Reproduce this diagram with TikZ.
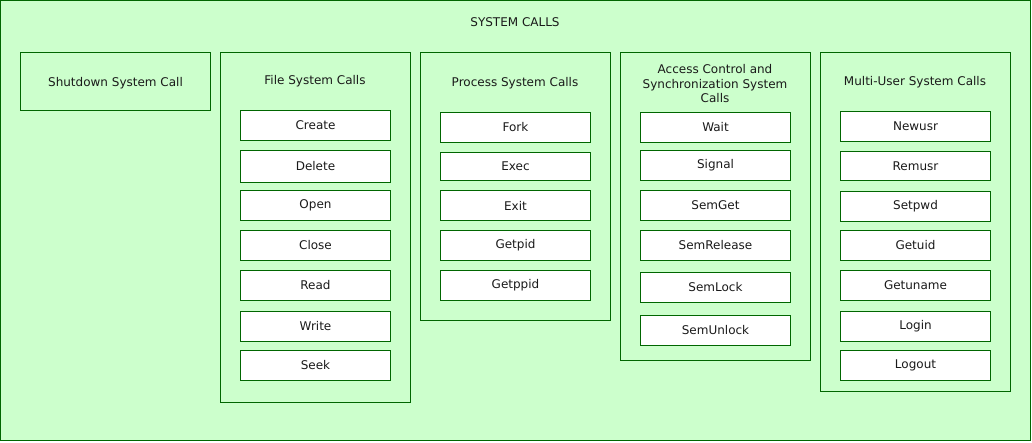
\documentclass[tikz,border=0pt]{standalone}
\usepackage{fontspec}
\setmainfont{DejaVu Sans}
\definecolor{gfill}{HTML}{CCFFCC}
\definecolor{gline}{HTML}{006600}
\definecolor{txt}{HTML}{1A1A1A}
\begin{document}
\begin{tikzpicture}[x=1pt,y=-1pt,
  panel/.style={draw=gline, fill=gfill, line width=1pt, inner sep=0pt, outer sep=0pt, anchor=north west},
  itembox/.style={draw=gline, fill=white, line width=1pt, minimum width=150pt, minimum height=30pt, inner sep=0pt, outer sep=0pt, anchor=north west, text=txt, font=\fontsize{12}{14.5}\selectfont},
  lbl/.style={font=\fontsize{12}{14.5}\selectfont, align=center, inner sep=0pt, text=txt}]
\useasboundingbox (0,0) rectangle (1032,442);
% outer container
\node[panel, minimum width=1030pt, minimum height=440pt] (outer) at (0.5,0.5) {};
\node[lbl] (title) at (515,22) {SYSTEM CALLS};
% shutdown
\node[panel, minimum width=190pt, minimum height=58pt] (shut) at (20.5,52.5) {};
\node[lbl] (shutT) at (115.5,83) {Shutdown System Call};
% panels
\node[panel, minimum width=190pt, minimum height=350pt] (file) at (220.5,52.5) {};
\node[panel, minimum width=190pt, minimum height=268pt] (proc) at (420.5,52.5) {};
\node[panel, minimum width=190pt, minimum height=308pt] (acc) at (620.5,52.5) {};
\node[panel, minimum width=190pt, minimum height=339pt] (multi) at (820.5,52.5) {};
% panel titles
\node[lbl] (fileT) at (315,81.5) {File System Calls};
\node[lbl] (procT) at (515,83.5) {Process System Calls};
\node[lbl] (accT) at (715,84) {Access Control and\\Synchronization System\\Calls};
\node[lbl] (multiT) at (915,82.5) {Multi-User System Calls};
% file system calls
\node[itembox] (create) at (240.5,110.5) {Create};
\node[itembox, minimum height=32pt] (delete) at (240.5,150.5) {Delete};
\node[itembox] (open) at (240.5,190.5) {Open};
\node[itembox] (close) at (240.5,230.5) {Close};
\node[itembox] (read) at (240.5,270.5) {Read};
\node[itembox] (write) at (240.5,311.5) {Write};
\node[itembox] (seek) at (240.5,350.5) {Seek};
% process system calls
\node[itembox] (fork) at (440.5,112.5) {Fork};
\node[itembox, minimum height=28pt] (exec) at (440.5,152.5) {Exec};
\node[itembox] (exit) at (440.5,190.5) {Exit};
\node[itembox] (getpid) at (440.5,230.5) {Getpid};
\node[itembox] (getppid) at (440.5,270.5) {Getppid};
% access control
\node[itembox] (wait) at (640.5,112.5) {Wait};
\node[itembox] (signal) at (640.5,150.5) {Signal};
\node[itembox] (semget) at (640.5,190.5) {SemGet};
\node[itembox] (semrel) at (640.5,230.5) {SemRelease};
\node[itembox] (semlock) at (640.5,272.5) {SemLock};
\node[itembox] (semunlock) at (640.5,315.5) {SemUnlock};
% multi-user
\node[itembox] (newusr) at (840.5,111.5) {Newusr};
\node[itembox, minimum height=29pt] (remusr) at (840.5,151.5) {Remusr};
\node[itembox] (setpwd) at (840.5,191.5) {Setpwd};
\node[itembox] (getuid) at (840.5,230.5) {Getuid};
\node[itembox] (getuname) at (840.5,270.5) {Getuname};
\node[itembox] (login) at (840.5,311.5) {Login};
\node[itembox] (logout) at (840.5,350.5) {Logout};
\end{tikzpicture}
\end{document}
